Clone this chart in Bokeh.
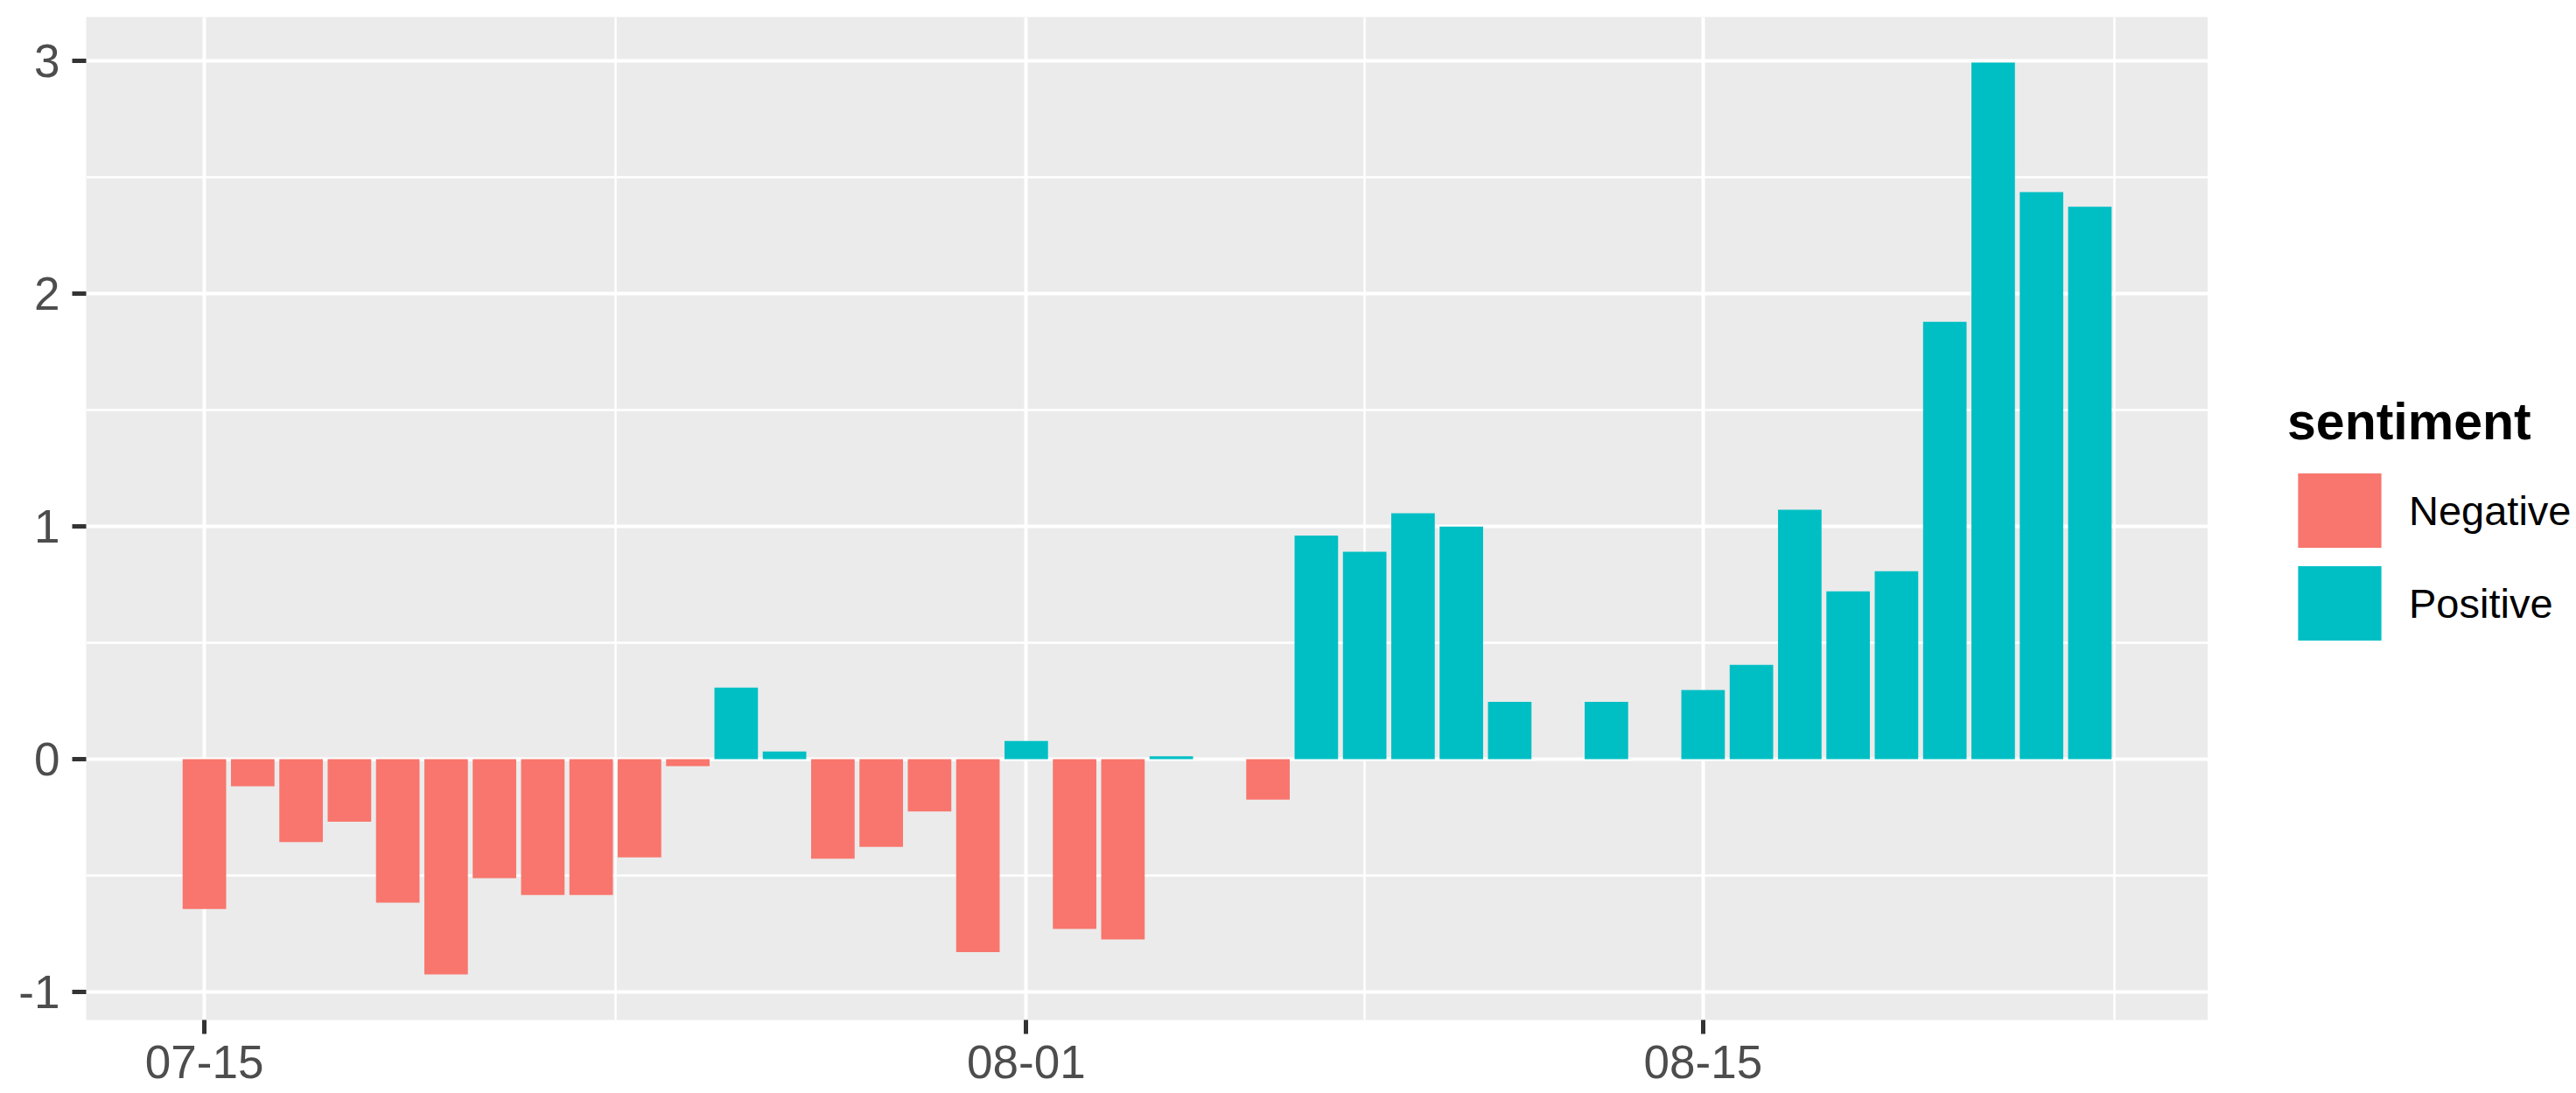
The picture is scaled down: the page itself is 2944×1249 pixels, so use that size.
import pandas as pd
from bokeh.plotting import figure
from bokeh.layouts import row
from bokeh.models import (ColumnDataSource, Range1d, FixedTicker, DatetimeTickFormatter,
                          PrintfTickFormatter, Legend, LegendItem)
from bokeh.embed import file_html
from bokeh.resources import INLINE

# ---- data ----
dates = ["2020-07-15", "2020-07-16", "2020-07-17", "2020-07-18", "2020-07-19", "2020-07-20",
         "2020-07-21", "2020-07-22", "2020-07-23", "2020-07-24", "2020-07-25", "2020-07-26",
         "2020-07-27", "2020-07-28", "2020-07-29", "2020-07-30", "2020-07-31", "2020-08-01",
         "2020-08-02", "2020-08-03", "2020-08-04", "2020-08-06", "2020-08-07", "2020-08-08",
         "2020-08-09", "2020-08-10", "2020-08-11", "2020-08-13", "2020-08-15", "2020-08-16",
         "2020-08-17", "2020-08-18", "2020-08-19", "2020-08-20", "2020-08-21", "2020-08-22",
         "2020-08-23"]
values = [-0.644, -0.117, -0.356, -0.269, -0.617, -0.925,
          -0.512, -0.584, -0.584, -0.422, -0.030, 0.308,
          0.033, -0.428, -0.377, -0.225, -0.829, 0.078,
          -0.730, -0.775, 0.012, -0.174, 0.961, 0.892,
          1.057, 1.000, 0.246, 0.246, 0.297, 0.405,
          1.072, 0.721, 0.808, 1.880, 2.994, 2.438,
          2.375]
x_major = ["2020-07-15", "2020-08-01", "2020-08-15"]
x_minor = ["2020-07-23 12:00", "2020-08-08", "2020-08-23 12:00"]
y_major = [-1, 0, 1, 2, 3]
y_minor = [-0.5, 0.5, 1.5, 2.5]
groups = ["Negative", "Positive"]
colors = ["#F8766D", "#00BFC4"]

DAY = 86400000.0
xs = pd.to_datetime(dates)
ms = lambda d: pd.Timestamp(d).value / 1e6

neg = ColumnDataSource(dict(x=[d for d, v in zip(xs, values) if v < 0],
                            top=[v for v in values if v < 0]))
pos = ColumnDataSource(dict(x=[d for d, v in zip(xs, values) if v >= 0],
                            top=[v for v in values if v >= 0]))

# ggplot-like expansion
x0 = ms(dates[0]) - 0.45 * DAY
x1 = ms(dates[-1]) + 0.45 * DAY
xe = 0.05 * (x1 - x0)
ymin, ymax = min(values), max(values)
ye = 0.05 * (ymax - ymin)

FONT = "Liberation Sans"
W, H = 2940, 1245
FL, FT, FR, FB = 98, 19, 2523, 1165   # frame edges in page pixels

p = figure(width=FR, height=H, output_backend="svg", toolbar_location=None,
           x_axis_type="datetime",
           x_range=Range1d(x0 - xe, x1 + xe), y_range=Range1d(ymin - ye, ymax + ye),
           min_border_left=FL, min_border_right=0, min_border_top=FT,
           min_border_bottom=H - FB)
p.background_fill_color = "#EBEBEB"
p.border_fill_color = "white"
p.outline_line_color = None

r_neg = p.vbar(x="x", top="top", bottom=0, width=0.9 * DAY, source=neg,
               fill_color=colors[0], line_color=None)
r_pos = p.vbar(x="x", top="top", bottom=0, width=0.9 * DAY, source=pos,
               fill_color=colors[1], line_color=None)

xt = FixedTicker(ticks=[ms(d) for d in x_major], minor_ticks=[ms(d) for d in x_minor])
yt = FixedTicker(ticks=y_major, minor_ticks=y_minor)
p.xaxis.ticker = xt
p.yaxis.ticker = yt
p.xgrid.ticker = xt
p.ygrid.ticker = yt
p.xaxis.formatter = DatetimeTickFormatter(days="%m-%d", months="%m-%d")
p.yaxis.formatter = PrintfTickFormatter(format="%d")

for g in (p.xgrid, p.ygrid):
    g.grid_line_color = "white"
    g.grid_line_width = 4
    g.minor_grid_line_color = "white"
    g.minor_grid_line_width = 2.5
    g.level = "image"

for ax in (p.xaxis, p.yaxis):
    ax.axis_line_color = None
    ax.major_tick_line_color = "#333333"
    ax.major_tick_line_width = 5
    ax.major_tick_out = 16
    ax.major_tick_in = 0
    ax.minor_tick_line_color = None
    ax.major_label_text_font = FONT
    ax.major_label_text_font_size = "53px"
    ax.major_label_text_color = "#4D4D4D"
p.xaxis.major_label_standoff = 13
p.yaxis.major_label_standoff = 14

# ---- legend panel (separate figure to the right of the plot) ----
q = figure(width=W - FR, height=H, output_backend="svg", toolbar_location=None,
           x_range=Range1d(0, 1), y_range=Range1d(0, 1),
           min_border_left=0, min_border_right=0, min_border_top=0, min_border_bottom=0,
           x_axis_location=None, y_axis_location=None)
q.grid.visible = False
q.outline_line_color = None
q.background_fill_color = "white"
q.border_fill_color = "white"
# key renderers (their single point lies outside the visible range; only the legend shows them)
k_neg = q.vbar(x=[-10], top=[-10], width=1, fill_color=colors[0], line_color=None)
k_pos = q.vbar(x=[-10], top=[-10], width=1, fill_color=colors[1], line_color=None)

legend = Legend(items=[LegendItem(label=groups[0], renderers=[k_neg]),
                       LegendItem(label=groups[1], renderers=[k_pos])],
                location=(2614 - FR, 423), title="sentiment")
legend.title_text_font = FONT
legend.title_text_font_size = "59px"
legend.title_text_font_style = "bold"
legend.title_text_color = "black"
legend.title_standoff = 14
legend.label_text_font = FONT
legend.label_text_font_size = "47px"
legend.label_text_color = "black"
legend.glyph_width = 119
legend.glyph_height = 106
legend.label_height = 106
legend.label_standoff = 20
legend.spacing = 0
legend.padding = 0
legend.margin = 0
legend.border_line_color = None
legend.background_fill_alpha = 0
q.add_layout(legend)

layout = row(p, q, spacing=0)
open("out.html", "w").write(file_html(layout, INLINE))
